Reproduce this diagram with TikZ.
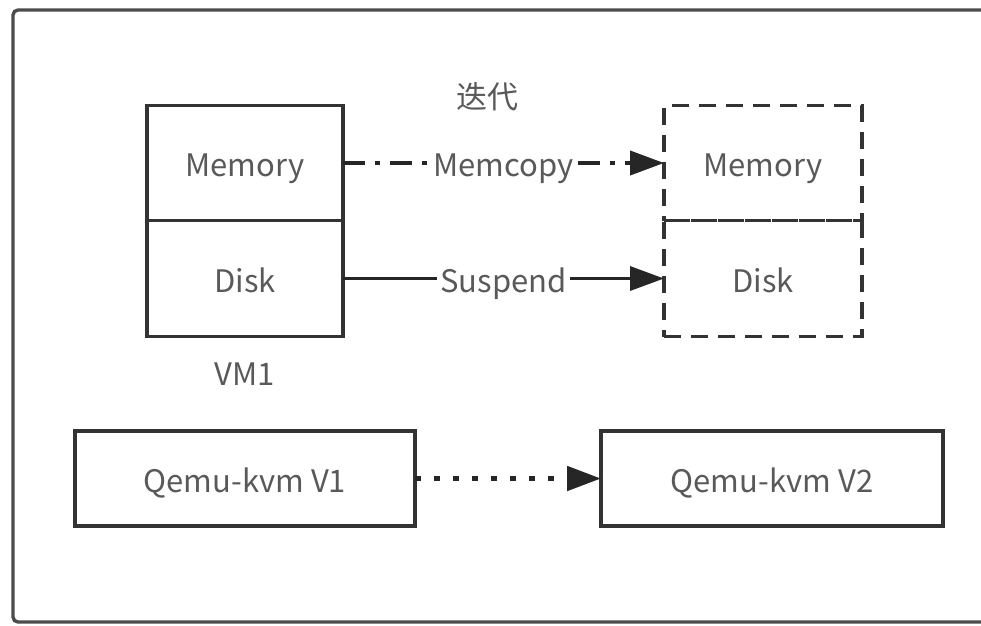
\documentclass[tikz,border=0pt]{standalone}
\usepackage{fontspec}
\setmainfont{Noto Sans CJK SC}
\usetikzlibrary{positioning}
\usetikzlibrary{arrows.meta}

\begin{document}
\begin{tikzpicture}[x=1pt,y=-1pt,line width=3.4pt,draw=black!80,
  every node/.style={font=\fontsize{31}{36}\selectfont,text=black!65,outer sep=0pt,text height=27pt,text depth=0pt},
  flow/.style={-{Triangle[length=34pt,width=24pt]},draw=black!85}]
  \useasboundingbox (0,0) rectangle (981,625);
  \draw[black!70,rounded corners=5pt] (1000,10) -- (13,10) -- (13,622) -- (1000,622);

  \node[draw,minimum width=196pt,minimum height=115pt, name=mem1] at (245,163) {Memory};
  \node[draw,minimum width=196pt,minimum height=116pt, name=disk1, below=0pt of mem1] {Disk};
  \node[name=vm1, below=19pt of disk1] {VM1};
  \node[draw,dash pattern=on 17pt off 10pt,minimum width=198pt,minimum height=115pt, name=mem2] at (763,163) {Memory};
  \node[draw,dash pattern=on 17pt off 10pt,minimum width=198pt,minimum height=116pt, name=disk2, below=0pt of mem2] {Disk};
  \node[name=iter] at (487,95) {迭代};

  \node[draw,minimum width=340pt,minimum height=95pt, name=qemu1] at (245,478.5) {Qemu-kvm V1};
  \node[draw,minimum width=342pt,minimum height=95pt, name=qemu2] at (772,478.5) {Qemu-kvm V2};

  \draw[flow,line width=4pt,dash pattern=on 22pt off 10pt on 5pt off 10pt] (mem1.east) -- node[fill=white,inner sep=3pt] {Memcopy} (mem2.west);
  \draw[flow] (disk1.east) -- node[fill=white,inner sep=3pt] {Suspend} (disk2.west);
  \draw[flow,line width=5pt,dash pattern=on 6pt off 13pt] (qemu1) -- (qemu2);
\end{tikzpicture}
\end{document}
